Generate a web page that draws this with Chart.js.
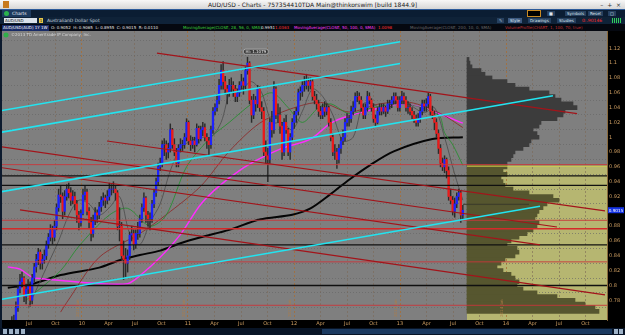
<!DOCTYPE html>
<html>
<head>
<meta charset="utf-8">
<script src="https://cdn.jsdelivr.net/npm/chart.js@4.4.0/dist/chart.umd.min.js"></script>
<style>
body{margin:0;width:625px;height:335px;background:#000;overflow:hidden;position:relative;font-family:"DejaVu Sans",Arial,sans-serif}
.bar{position:absolute;left:0;width:625px;white-space:nowrap;overflow:hidden}
#title{top:0;height:9px;background:linear-gradient(#f7f7f7,#d6d6d6);color:#222;font-size:6px;line-height:9px;text-align:center}
#title .ico{position:absolute;left:3px;top:1px;width:6px;height:7px;background:#c77a1e}
#title .win{position:absolute;right:4px;top:0;font-size:6px;color:#333}
#tabs{top:9px;height:8px;background:#0b1d33;border-top:1px solid #2b5a9a;box-sizing:border-box}
#tabs .tab{position:absolute;left:2px;top:0;height:7px;padding:0 4px 0 10px;background:#1d3a5e;color:#e8eef5;font-size:4.5px;line-height:7px}
#tabs .tab i{position:absolute;left:2px;top:1px;width:5px;height:5px;border-radius:50%;background:#2bb24c}
#tool{top:17px;height:8px;background:#0f2238}
.btn{position:absolute;top:1px;height:5px;font-size:4px;line-height:5px;color:#dfe6ee;background:#26405f;padding:0 2px}
#tool .sym{position:absolute;left:4px;top:1px;width:32px;height:5px;background:#d9e1ea;color:#111;font-size:4px;line-height:5px;padding-left:1px}
#tool .one{position:absolute;left:39px;top:1px;width:4px;height:5px;background:#e8c64a;color:#111;font-size:4px;line-height:5px;text-align:center}
#tool .desc{position:absolute;left:47px;top:1px;font-size:4.5px;line-height:5px;color:#c9d3de}
#study{top:24px;height:7px;background:#050810;font-size:4px;line-height:7px}
#study span{position:absolute;top:0}
#wrap{position:absolute;left:0;top:31px;width:625px;height:297px}
#scroll{top:328px;height:7px;background:#081426}
#scroll .track{position:absolute;left:322px;top:1px;width:290px;height:5px;background:#1b3a60}
#scroll .ic{position:absolute;top:1px;width:4px;height:5px;background:#9fb3c8}
</style>
</head>
<body>
<div id="title" class="bar"><span class="ico"></span>AUD/USD - Charts - 757354410TDA Main@thinkorswim [build 1844.9]<span class="win">&ndash;&nbsp;&nbsp;+&nbsp;&nbsp;&times;</span></div>
<div id="tabs" class="bar"><span class="tab"><i></i>Charts</span>
  <span class="btn" style="left:527px;background:#000;border:1px solid #c98a22;width:8px;top:0"></span>
  <span class="btn" style="left:547px">&#9632;</span>
  <span class="btn" style="left:565px">Symbols</span>
  <span class="btn" style="left:588px">Reset</span>
  <span class="btn" style="left:608px">&#9633;</span>
</div>
<div id="tool" class="bar"><span class="sym">AUD/USD</span><span class="one">1</span><span class="desc">AustralianD Dollar Spot</span>
  <span class="btn" style="left:497px">&#9998;</span>
  <span class="btn" style="left:508px;background:#3d5a80">Style</span>
  <span class="btn" style="left:528px">Drawings</span>
  <span class="btn" style="left:557px">Studies</span>
  <span style="position:absolute;left:582px;top:1px;font-size:4.5px;line-height:5px;color:#ff2a2a">0:.90146</span>
  <span style="position:absolute;left:612px;top:1px;width:10px;height:5px;background:repeating-linear-gradient(90deg,#2fd05a 0 1px,transparent 1px 2px)"></span>
</div>
<div id="study" class="bar">
  <span style="left:2px;color:#fff;background:#172a66;padding:0 1px;line-height:6px;top:0.5px">AUD/USD(AUD) 1Y 1W</span>
  <span style="left:51px;color:#e6e6e6">O: 0.9052&nbsp; H: 0.9065&nbsp; L: 0.8955&nbsp; C: 0.9015&nbsp; R: 0.0110</span>
  <span style="left:183px;color:#3bd23b">MovingAverage(CLOSE, 28, 56, 0, SMA)</span>
  <span style="left:261px;color:#e6e6e6">0.9951</span>
  <span style="left:275px;color:#ff3030">1.0363</span>
  <span style="left:294px;color:#ff3cff">MovingAverage(CLOSE, 50, 100, 0, SMA)</span>
  <span style="left:378px;color:#ff3030">1.0098</span>
  <span style="left:410px;color:#6a6a6a">MovingAverage(CLOSE, 200, 10, 0, SMA)</span>
  <span style="left:505px;color:#c03030">VolumeProfile(CHART, 1, 100, 70, true)</span>
</div>
<div id="wrap"><canvas id="c" width="625" height="297"></canvas></div>
<div id="scroll" class="bar"><span class="ic" style="left:3px"></span><span class="ic" style="left:9px"></span><span class="ic" style="left:15px"></span><span class="ic" style="left:21px"></span><span class="track"></span><span class="ic" style="left:614px"></span><span class="ic" style="left:619px"></span></div>

<script>
// weekly bars, AUD/USD, first bar ~ late April 2009
const firstBarYear = 2009.30;
const weeksPerYear = 52.18;

const opens = [
  .705,.713,.730,.750,.745,.770,.795,.805,.810,.785,
  .795,.800,.780,.810,.825,.835,.845,.830,.835,.840,
  .855,.865,.875,.865,.880,.905,.922,.920,.900,.920,
  .930,.925,.915,.920,.910,.895,.885,.897,.922,.926,
  .900,.885,.870,.888,.898,.895,.906,.915,.918,.915,
  .920,.930,.930,.930,.925,.880,.880,.840,.835,.830,
  .840,.868,.870,.855,.870,.870,.890,.905,.918,.895,
  .890,.890,.910,.925,.940,.960,.965,.990,.990,.980,
  .985,1.010,.990,.980,.965,.985,.990,.990,1.000,1.020,
  .995,.990,.995,.990,1.012,.998,1.010,1.013,1.000,.995,
  .990,1.010,1.035,1.040,1.050,1.070,1.090,1.075,1.065,1.060,
  1.070,1.070,1.065,1.055,1.060,1.070,1.075,1.070,1.090,1.100,
  1.050,1.030,1.050,1.045,1.065,1.040,1.035,.980,.975,.970,
  1.020,1.010,1.065,1.030,1.030,1.015,.980,1.020,1.010,.980,
  1.000,1.020,1.030,1.035,1.060,1.062,1.070,1.070,1.075,1.070,
  1.075,1.055,1.050,1.045,1.035,1.030,1.040,1.035,1.040,1.020,
  1.000,.980,.980,.970,.985,.995,1.000,1.020,1.025,1.025,
  1.035,1.040,1.055,1.055,1.050,1.040,1.030,1.040,1.055,1.050,
  1.040,1.025,1.020,1.035,1.040,1.035,1.040,1.035,1.045,1.045,
  1.050,1.055,1.050,1.040,1.050,1.055,1.050,1.040,1.040,1.035,
  1.030,1.025,1.020,1.025,1.035,1.045,1.042,1.045,1.055,1.035,
  1.030,1.020,1.005,.985,.965,.960,.970,.955,.920,.915,
  .900,.910,.920,.925,.895
];
const highs = [
  .720,.735,.758,.760,.778,.800,.815,.818,.812,.802,
  .808,.805,.815,.830,.842,.850,.848,.842,.848,.860,
  .870,.882,.880,.888,.910,.930,.935,.925,.928,.936,
  .938,.932,.928,.926,.915,.900,.902,.930,.934,.930,
  .905,.892,.895,.905,.902,.912,.920,.925,.922,.928,
  .938,.936,.940,.935,.928,.905,.885,.860,.850,.848,
  .872,.880,.875,.875,.885,.895,.910,.925,.920,.900,
  .898,.915,.930,.945,.965,.972,.995,.998,.995,.992,
  1.018,1.012,.998,.985,.990,.998,.996,1.005,1.025,1.022,
  1.002,1.000,1.000,1.018,1.015,1.015,1.020,1.018,1.005,1.000,
  1.015,1.040,1.045,1.058,1.078,1.098,1.102,1.082,1.070,1.078,
  1.080,1.075,1.070,1.065,1.075,1.085,1.080,1.095,1.108,1.102,
  1.055,1.058,1.055,1.070,1.068,1.048,1.040,.995,.985,1.025,
  1.035,1.075,1.068,1.045,1.040,1.020,1.025,1.030,1.012,1.005,
  1.025,1.035,1.040,1.065,1.068,1.075,1.082,1.085,1.080,1.080,
  1.078,1.062,1.058,1.050,1.042,1.045,1.048,1.045,1.042,1.025,
  1.005,.990,.985,.990,1.000,1.010,1.025,1.032,1.030,1.042,
  1.048,1.060,1.062,1.060,1.055,1.045,1.045,1.062,1.060,1.052,
  1.045,1.030,1.040,1.045,1.045,1.045,1.042,1.050,1.050,1.055,
  1.060,1.060,1.055,1.055,1.062,1.060,1.055,1.048,1.045,1.040,
  1.035,1.030,1.032,1.040,1.050,1.050,1.052,1.060,1.058,1.042,
  1.035,1.025,1.010,.990,.972,.975,.972,.960,.930,.920,
  .918,.925,.930,.928,.908
];
const lows = [
  .700,.708,.725,.738,.740,.765,.790,.798,.778,.775,
  .788,.772,.775,.805,.818,.828,.822,.822,.830,.835,
  .850,.860,.856,.860,.875,.900,.912,.890,.895,.915,
  .918,.908,.910,.902,.885,.875,.880,.895,.915,.895,
  .878,.860,.865,.882,.885,.890,.900,.908,.905,.910,
  .915,.922,.925,.915,.875,.860,.835,.808,.812,.818,
  .835,.860,.848,.850,.862,.865,.885,.900,.885,.880,
  .875,.885,.905,.920,.935,.955,.960,.975,.970,.972,
  .980,.985,.975,.960,.960,.980,.982,.985,.995,.990,
  .982,.985,.980,.988,.992,.995,1.002,.995,.985,.975,
  .985,1.005,1.030,1.035,1.045,1.065,1.065,1.058,1.045,1.055,
  1.060,1.055,1.048,1.048,1.055,1.065,1.058,1.065,1.085,1.045,
  1.020,1.025,1.035,1.040,1.035,1.025,.975,.965,.940,.965,
  1.000,1.005,1.025,1.020,1.005,.970,.975,1.005,.975,.970,
  .995,1.012,1.020,1.030,1.050,1.055,1.062,1.065,1.062,1.065,
  1.050,1.045,1.038,1.028,1.025,1.025,1.028,1.030,1.015,.995,
  .975,.970,.958,.965,.978,.990,.995,1.015,1.015,1.020,
  1.030,1.035,1.048,1.045,1.035,1.025,1.025,1.035,1.045,1.035,
  1.020,1.015,1.018,1.030,1.030,1.032,1.028,1.032,1.038,1.040,
  1.045,1.045,1.035,1.035,1.045,1.045,1.035,1.032,1.030,1.025,
  1.020,1.015,1.015,1.020,1.030,1.035,1.035,1.040,1.030,1.025,
  1.010,1.000,.978,.960,.955,.952,.945,.915,.910,.895,
  .892,.905,.915,.885,.890
];
const closes = [
  .713,.730,.750,.745,.770,.795,.805,.810,.785,.795,
  .800,.780,.810,.825,.835,.845,.830,.835,.840,.855,
  .865,.875,.865,.880,.905,.922,.920,.900,.920,.930,
  .925,.915,.920,.910,.895,.885,.897,.922,.926,.900,
  .885,.870,.888,.898,.895,.906,.915,.918,.915,.920,
  .930,.930,.930,.925,.880,.880,.840,.835,.830,.840,
  .868,.870,.855,.870,.870,.890,.905,.918,.895,.890,
  .890,.910,.925,.940,.960,.965,.990,.990,.980,.985,
  1.010,.990,.980,.965,.985,.990,.990,1.000,1.020,.995,
  .990,.995,.990,1.012,.998,1.010,1.013,1.000,.995,.990,
  1.010,1.035,1.040,1.050,1.070,1.090,1.075,1.065,1.060,1.070,
  1.070,1.065,1.055,1.060,1.070,1.075,1.070,1.090,1.100,1.050,
  1.030,1.050,1.045,1.065,1.040,1.035,.980,.975,.970,1.020,
  1.010,1.065,1.030,1.030,1.015,.980,1.020,1.010,.980,1.000,
  1.020,1.030,1.035,1.060,1.062,1.070,1.070,1.075,1.070,1.075,
  1.055,1.050,1.045,1.035,1.030,1.040,1.035,1.040,1.020,1.000,
  .980,.980,.970,.985,.995,1.000,1.020,1.025,1.025,1.035,
  1.040,1.055,1.055,1.050,1.040,1.030,1.040,1.055,1.050,1.040,
  1.025,1.020,1.035,1.040,1.035,1.040,1.035,1.045,1.045,1.050,
  1.055,1.050,1.040,1.050,1.055,1.050,1.040,1.040,1.035,1.030,
  1.025,1.020,1.025,1.035,1.045,1.042,1.045,1.055,1.035,1.030,
  1.020,1.005,.985,.965,.960,.970,.955,.920,.915,.900,
  .910,.920,.925,.895,.9015
];

// moving averages (bar index, price)
const maLongIdx = [0, 11, 26, 45, 55, 65, 75, 85, 95, 109, 124, 140, 149, 159, 168, 178, 190, 209, 224];
const maLongVal = [.797,.801,.814,.824,.834,.841,.847,.857,.865,.875,.889,.8955,.904,.9235,.9427,.9618,.9809,.9975,1.000];
const maMagentaIdx = [0, 6, 12, 17, 29, 45, 59, 65, 75, 85, 95, 104, 114, 124, 135, 149, 159, 168, 183, 193, 203, 213, 224];
const maMagentaVal = [.825,.822,.811,.809,.806,.8025,.8025,.813,.838,.869,.9095,.934,.955,.971,.985,.9975,1.019,1.029,1.0395,1.0446,1.041,1.031,1.019];
const maGreenIdx = [9, 26, 35, 50, 59, 70, 78, 88, 100, 109, 120, 130, 138, 145, 153, 159, 168, 180, 195, 212, 215, 219, 224];
const maGreenVal = [.780,.820,.853,.895,.904,.880,.895,.960,1.000,1.020,1.045,1.060,1.040,1.020,1.040,1.045,1.032,1.040,1.045,1.030,1.006,.990,.962];
const maRedIdx = [26, 29, 45, 65, 78, 95, 109, 124, 139, 154, 168, 183, 198, 213, 224];
const maRedVal = [.764,.777,.838,.870,.8955,.934,.981,1.019,1.038,1.047,1.034,1.045,1.047,1.032,1.013];
const maFastIdx = [10,15,20,25,30,35,40,45,50,55,60,65,70,75,80,85,90,95,100,105,110,115,120,125,130,135,140,145,150,155,160,165,170,175,180,185,190,195,200,205,210,215,220,224];
const maFastVal = [.770,.800,.830,.860,.895,.915,.910,.895,.905,.920,.870,.855,.885,.910,.955,.985,.995,1.000,1.000,1.020,1.065,1.065,1.075,1.060,1.020,1.020,1.010,1.035,1.065,1.055,1.030,.995,1.000,1.045,1.045,1.035,1.045,1.050,1.040,1.033,1.040,1.000,.950,.915];

// drawings: [startYear, startPrice, endYear, endPrice]
const cyanLines = [
  [2009.226, 1.0357, 2013.000, 1.1287],
  [2009.226, 1.0064, 2013.000, 1.0994],
  [2009.226, 0.9261, 2014.443, 1.0561],
  [2009.226, 0.7808, 2014.321, 0.9070]
];
const redTrendLines = [
  [2010.707, 1.1134, 2014.670, 1.0319],
  [2009.226, 0.9873, 2014.481, 0.8789],
  [2010.236, 0.9949, 2014.934, 0.9006],
  [2009.226, 0.9592, 2014.321, 0.8547],
  [2009.415, 0.9019, 2014.934, 0.7872]
];
const redLevels = [0.9630, 0.8879, 0.8318, 0.7732];
const redBoldLevels = [0.8764];
const blackLevels = [0.9478, 0.9350, 0.8547, 0.7999];

// volume profile
const profilePrices = [
  1.105,1.100,1.095,1.090,1.085,1.080,1.075,1.070,1.065,1.060,
  1.055,1.050,1.045,1.040,1.035,1.030,1.025,1.020,1.015,1.010,
  1.005,1.000,0.995,0.990,0.985,0.980,0.975,0.970,0.965,0.960,
  0.955,0.950,0.945,0.940,0.935,0.930,0.925,0.920,0.915,0.910,
  0.905,0.900,0.895,0.890,0.885,0.880,0.875,0.870,0.865,0.860,
  0.855,0.850,0.845,0.840,0.835,0.830,0.825,0.820,0.815,0.810,
  0.805,0.800,0.795,0.790,0.785,0.780,0.775,0.770,0.765
];
const profileVolume = [
  2,3,5,14,18,25,40,48,62,82,
  88,94,106,110,98,96,90,74,72,66,
  70,72,64,62,56,48,46,44,40,40,
  36,40,34,36,38,46,62,86,92,80,
  76,72,70,68,72,70,66,60,52,44,
  40,50,52,48,38,34,30,36,44,48,
  52,50,56,70,90,108,118,128,132
];
const valueAreaHigh = 0.961;
const pocPrice = 0.9095;

const priceTicks = [0.78,0.80,0.82,0.84,0.86,0.88,0.90,0.92,0.94,0.96,0.98,1.00,1.02,1.04,1.06,1.08,1.10,1.12];
const quarterTicks = [2009.5,2009.75,2010,2010.25,2010.5,2010.75,2011,2011.25,2011.5,2011.75,2012,2012.25,2012.5,2012.75,2013,2013.25,2013.5,2013.75,2014,2014.25,2014.5,2014.75];
const quarterNames = ['', 'Apr', 'Jul', 'Oct'];

const xMin = 2009.2453, xMax = 2014.9528;
const yMin = 0.7642, yMax = 1.1325;
const lastPrice = closes[closes.length - 1];

function barYear(i) {
    return firstBarYear + i / weeksPerYear;
}

function maPoints(idx, vals) {
    return idx.map((k, j) => ({ x: barYear(k), y: vals[j] }));
}

function lineDs(points, color, width, order, extra) {
    return Object.assign({
        type: 'line', data: points, borderColor: color, borderWidth: width,
        pointRadius: 0, tension: 0, fill: false, order: order
    }, extra || {});
}

const datasets = [];

// drawings on top
cyanLines.forEach(l => datasets.push(lineDs([{x: l[0], y: l[1]}, {x: l[2], y: l[3]}], '#22e4f0', 1.5, 0)));
redTrendLines.forEach(l => datasets.push(lineDs([{x: l[0], y: l[1]}, {x: l[2], y: l[3]}], '#a3141a', 1.2, 1)));
redLevels.forEach(p => datasets.push(lineDs([{x: xMin, y: p}, {x: xMax, y: p}], '#c8363a', 0.9, 1)));
redBoldLevels.forEach(p => datasets.push(lineDs([{x: xMin, y: p}, {x: xMax, y: p}], '#d42a2a', 1.4, 1)));
blackLevels.forEach(p => datasets.push(lineDs([{x: xMin, y: p}, {x: xMax, y: p}], '#101010', 1.3, 1)));

// candles
datasets.push({
    type: 'bar', order: 3, grouped: false, barThickness: 0.8,
    data: closes.map((c, i) => ({ x: barYear(i), y: [lows[i], highs[i]] })),
    backgroundColor: '#2b2b2b'
});
datasets.push({
    type: 'bar', order: 2, grouped: false, barThickness: 1.6,
    data: closes.map((c, i) => ({ x: barYear(i), y: [opens[i], c] })),
    backgroundColor: closes.map((c, i) => c >= opens[i] ? '#1c22ff' : '#ee1a1a')
});

// studies
datasets.push(lineDs(maPoints(maFastIdx, maFastVal), '#4a4a4a', 0.8, 4, { tension: 0.3 }));
datasets.push(lineDs(maPoints(maGreenIdx, maGreenVal), '#1f8f2a', 0.8, 4, { tension: 0.3 }));
datasets.push(lineDs(maPoints(maRedIdx, maRedVal), '#8e2222', 0.8, 4, { tension: 0.3 }));
datasets.push(lineDs(maPoints(maMagentaIdx, maMagentaVal), '#ff2cff', 1.4, 4, { tension: 0.3 }));
datasets.push(lineDs(maPoints(maLongIdx, maLongVal), '#050505', 2, 4, { tension: 0.3 }));

// volume profile
datasets.push({
    type: 'bar', indexAxis: 'y', xAxisID: 'xv', yAxisID: 'y', order: 10, grouped: false,
    barThickness: 4,
    data: profilePrices.map((p, i) => ({ y: p, x: profileVolume[i] })),
    backgroundColor: profilePrices.map(p => p <= valueAreaHigh ? '#56562f' : '#3c3c3c')
});
datasets.push(lineDs([{x: 0, y: valueAreaHigh}, {x: 140, y: valueAreaHigh}], '#d8d84a', 1, 9, { xAxisID: 'xv' }));
datasets.push(lineDs([{x: -4, y: pocPrice}, {x: 62, y: pocPrice}], '#3a3a2a', 1, 9, { xAxisID: 'xv' }));

const backdrop = {
    id: 'backdrop',
    beforeDraw(chart) {
        const { ctx, chartArea: a, scales } = chart;
        ctx.save();
        ctx.fillStyle = '#000';
        ctx.fillRect(0, 0, chart.width, chart.height);
        ctx.fillStyle = '#7f7f7f';
        ctx.fillRect(a.left, a.top, a.right - a.left, a.bottom - a.top);
        const x0 = scales.xv.getPixelForValue(0);
        const yv = scales.y.getPixelForValue(valueAreaHigh);
        ctx.fillStyle = '#b6b671';
        ctx.fillRect(x0, yv, a.right - x0, a.bottom - yv);
        ctx.fillStyle = '#0c1a2e';
        ctx.fillRect(0, 0, a.left, chart.height);
        ctx.restore();
    }
};

const overlay = {
    id: 'overlay',
    afterDraw(chart) {
        const { ctx, chartArea: a, scales } = chart;
        const x = scales.x, y = scales.y;
        ctx.save();
        // copyright
        ctx.fillStyle = '#2fb04a';
        ctx.beginPath();
        ctx.arc(a.left + 4, a.top + 4, 2.5, 0, Math.PI * 2);
        ctx.fill();
        ctx.font = '4px "DejaVu Sans"';
        ctx.fillStyle = '#d8d8d8';
        ctx.textBaseline = 'middle';
        ctx.fillText('\u00a92013 TD Ameritrade IP Company, Inc.', a.left + 9, a.top + 4);

        // year labels along year lines
        ctx.fillStyle = '#b07c46';
        ctx.font = '4px "DejaVu Sans"';
        [2010, 2011, 2012, 2013, 2014].forEach(yr => {
            const px = x.getPixelForValue(yr);
            ctx.save();
            ctx.translate(px - 2, a.bottom - 3);
            ctx.rotate(-Math.PI / 2);
            ctx.textBaseline = 'bottom';
            ctx.fillText(yr + ' Jan', 0, 0);
            ctx.restore();
        });

        // high bubble, placed just right of the top wick
        let hi = 0;
        highs.forEach((h, i) => { if (h > highs[hi]) hi = i; });
        const hx = x.getPixelForValue(barYear(hi));
        const hy = y.getPixelForValue(highs[hi]);
        ctx.font = '4px "DejaVu Sans"';
        const txt = 'Hi: 1.1079';
        const w = ctx.measureText(txt).width + 4;
        const bx = hx - 4, by = hy - 8;
        ctx.fillStyle = '#3a3a3a';
        ctx.strokeStyle = '#d0d0d0';
        ctx.lineWidth = 0.6;
        ctx.beginPath();
        ctx.roundRect(bx, by, w, 5, 2);
        ctx.fill();
        ctx.stroke();
        ctx.fillStyle = '#f0f0f0';
        ctx.textAlign = 'center';
        ctx.textBaseline = 'middle';
        ctx.fillText(txt, bx + w / 2, by + 2.6);

        // last price tag on the axis
        const ly = y.getPixelForValue(lastPrice);
        ctx.fillStyle = '#1433e6';
        ctx.fillRect(a.right + 1, ly - 3, 16, 6);
        ctx.fillStyle = '#fff';
        ctx.font = '4.2px "DejaVu Sans"';
        ctx.fillText(lastPrice.toFixed(4), a.right + 9, ly + 0.3);
        ctx.restore();
    }
};

new Chart(document.getElementById('c'), {
    type: 'line',
    data: { datasets },
    options: {
        responsive: false,
        animation: false,
        events: [],
        layout: { padding: { left: 2, right: 0, top: 0, bottom: 0 } },
        plugins: { legend: { display: false }, tooltip: { enabled: false } },
        scales: {
            x: {
                type: 'linear', min: xMin, max: xMax, offset: false,
                afterBuildTicks: s => { s.ticks = quarterTicks.map(v => ({ value: v })); },
                afterFit: s => { s.height = 8; s.paddingLeft = 0; s.paddingRight = 0; },
                ticks: {
                    autoSkip: false, maxRotation: 0, padding: 1,
                    color: '#cf9f62', font: { size: 5, family: 'DejaVu Sans' },
                    callback: v => {
                        const q = Math.round((v - Math.floor(v)) * 4);
                        return q === 0 ? String(Math.floor(v)).slice(2) : quarterNames[q];
                    }
                },
                grid: {
                    drawTicks: false, offset: false, lineWidth: 0.8,
                    color: c => (c.tick && Number.isInteger(c.tick.value)) ? 'rgba(170,110,50,0.95)' : 'rgba(125,105,85,0.75)'
                },
                border: { display: false, dash: [2, 2] }
            },
            xv: { type: 'linear', display: false, min: -465, max: 140 },
            y: {
                type: 'linear', position: 'right', min: yMin, max: yMax,
                afterBuildTicks: s => { s.ticks = priceTicks.map(v => ({ value: v })); },
                afterFit: s => { s.width = 18; s.paddingTop = 0; s.paddingBottom = 0; },
                ticks: {
                    padding: 2, color: '#cf9f62', font: { size: 5, family: 'DejaVu Sans' },
                    callback: v => String(parseFloat(v.toFixed(2)))
                },
                grid: { drawTicks: false, color: 'rgba(100,100,100,0.8)', lineWidth: 0.8 },
                border: { display: true, color: '#8a6a3c', dash: [1, 2] }
            }
        }
    },
    plugins: [backdrop, overlay]
});
</script>
</body>
</html>
